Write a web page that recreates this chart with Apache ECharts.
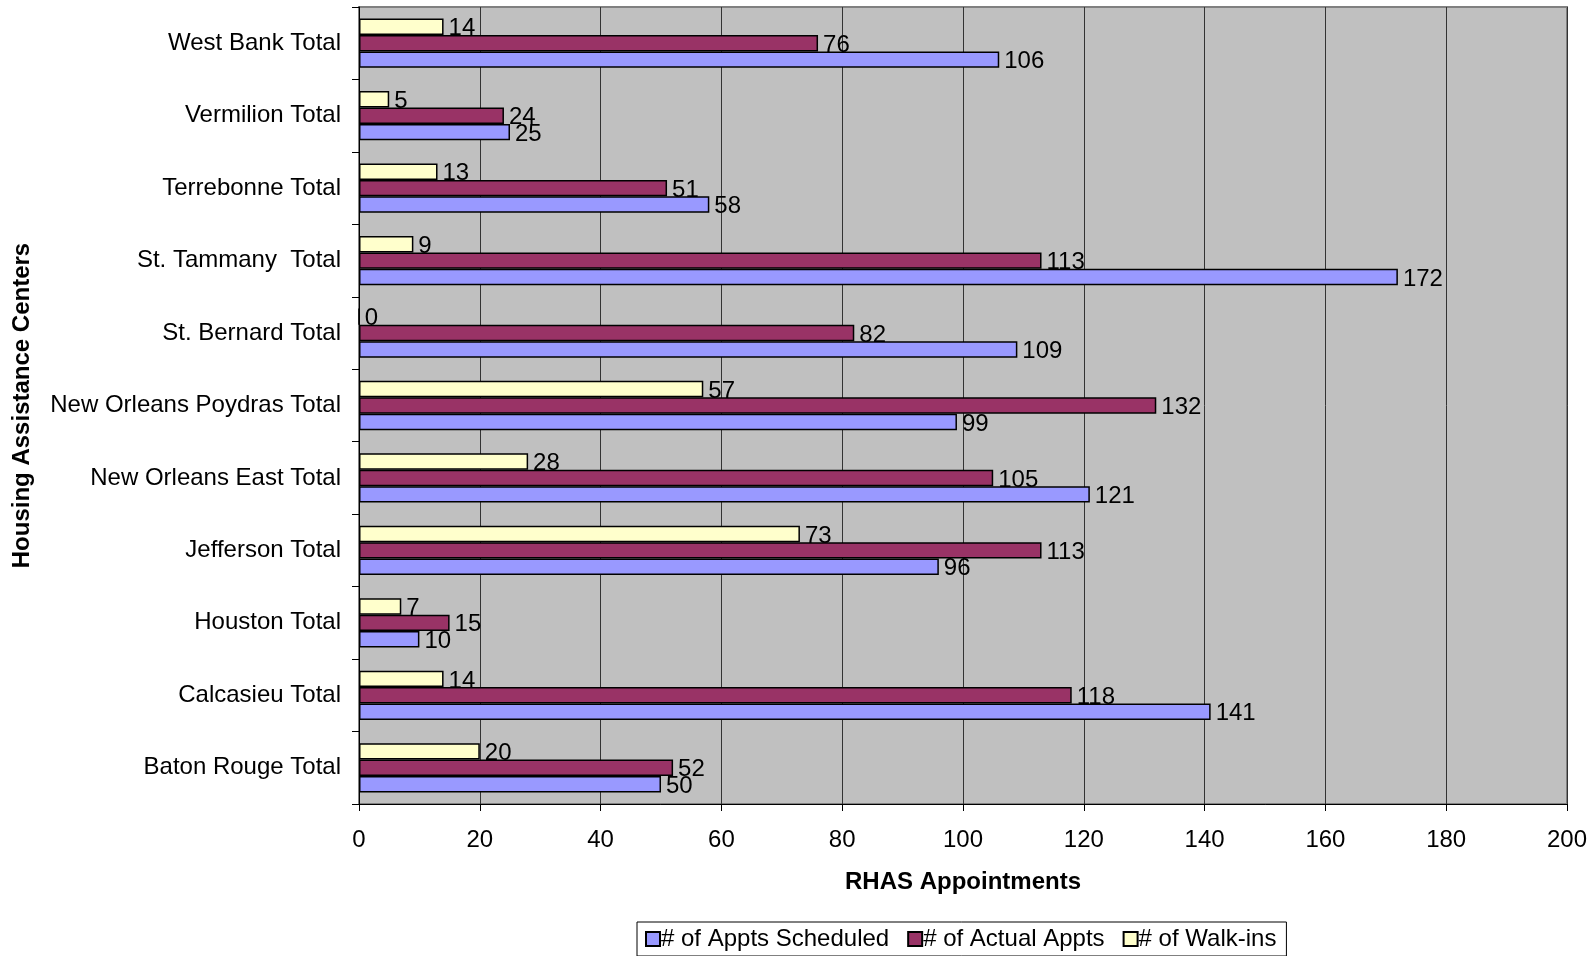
<!DOCTYPE html>
<html>
<head>
<meta charset="UTF-8">
<title>RHAS Appointments</title>
<style>
  * { margin: 0; padding: 0; }
  body { background: #fff; }
  #chart { width: 1595px; height: 956px; }
</style>
<script src="https://cdn.jsdelivr.net/npm/echarts@6/dist/echarts.min.js"></script>
</head>
<body>
<div id="chart"></div>
<script>
  // categories, bottom to top
  const centers = ['Baton Rouge Total', 'Calcasieu Total', 'Houston Total', 'Jefferson Total',
    'New Orleans East Total', 'New Orleans Poydras Total', 'St. Bernard Total',
    'St. Tammany  Total', 'Terrebonne Total', 'Vermilion Total', 'West Bank Total'];
  const scheduled = [50, 141, 10, 96, 121, 99, 109, 172, 58, 25, 106];
  const actual = [52, 118, 15, 113, 105, 132, 82, 113, 51, 24, 76];
  const walkIns = [20, 14, 7, 73, 28, 57, 0, 9, 13, 5, 14];
  const xTicks = [0, 20, 40, 60, 80, 100, 120, 140, 160, 180, 200];
  const seriesNames = ['# of Appts Scheduled', '# of Actual Appts', '# of Walk-ins'];

  const font = 'Liberation Sans, Arial, sans-serif';
  const fs = 24;
  const chart = echarts.init(document.getElementById('chart'));

  function barSeries(name, data, color) {
    return {
      name: name,
      type: 'bar',
      data: data,
      barGap: '0%',
      barCategoryGap: '32%',
      itemStyle: { color: color, borderColor: '#000', borderWidth: 1.5 },
      label: {
        show: true,
        position: 'right',
        distance: 5,
        offset: [0, 2],
        color: '#000',
        fontFamily: font,
        fontSize: fs
      }
    };
  }

  chart.setOption({
    animation: false,
    textStyle: { fontFamily: font },
    grid: {
      left: 359, right: 28, top: 7, bottom: 152,
      show: true,
      backgroundColor: '#C0C0C0',
      borderColor: '#808080',
      borderWidth: 2
    },
    xAxis: {
      type: 'value',
      min: xTicks[0],
      max: xTicks[xTicks.length - 1],
      interval: 20,
      name: 'RHAS Appointments',
      nameLocation: 'middle',
      nameGap: 66,
      nameTextStyle: { fontSize: fs, fontWeight: 'bold', color: '#000' },
      axisLine: { show: true, lineStyle: { color: '#000', width: 1 } },
      axisTick: { show: true, length: 7, lineStyle: { color: '#000' } },
      axisLabel: { fontSize: fs, color: '#000', margin: 24 },
      splitLine: { show: true, lineStyle: { color: '#333', width: 1 } }
    },
    yAxis: {
      type: 'category',
      data: centers,
      name: 'Housing Assistance Centers',
      nameLocation: 'middle',
      nameGap: 325,
      nameRotate: 90,
      nameTextStyle: { fontSize: fs, fontWeight: 'bold', color: '#000' },
      axisLine: { show: true, lineStyle: { color: '#000', width: 1 } },
      axisTick: { show: true, length: 7, lineStyle: { color: '#000' } },
      axisLabel: { fontSize: fs, color: '#000', margin: 18 },
      splitLine: { show: false }
    },
    legend: {
      left: 637,
      top: 922,
      data: seriesNames,
      icon: 'rect',
      itemWidth: 14,
      itemHeight: 14,
      itemGap: 18,
      padding: [5, 10, 5, 8],
      borderColor: '#000',
      borderWidth: 1,
      textStyle: { fontSize: fs, color: '#000', padding: [0, 0, 0, -4] }
    },
    // first series sits at the top of each group, so list walk-ins first
    series: [
      barSeries(seriesNames[2], walkIns, '#FFFFCC'),
      barSeries(seriesNames[1], actual, '#993366'),
      barSeries(seriesNames[0], scheduled, '#9999FF')
    ]
  });
</script>
</body>
</html>
